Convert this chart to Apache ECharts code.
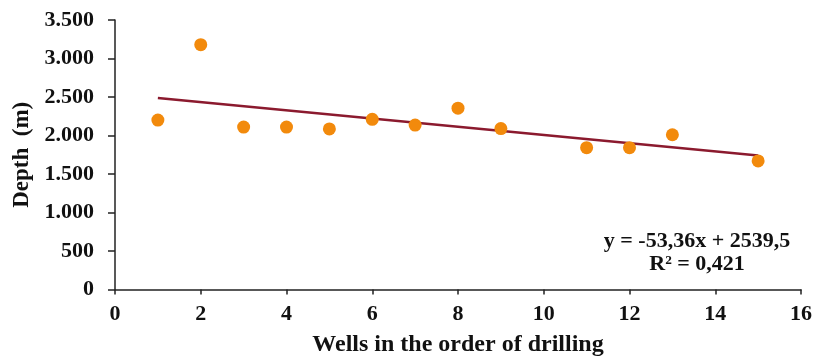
<!DOCTYPE html>
<html>
<head>
<meta charset="utf-8">
<script src="https://cdn.jsdelivr.net/npm/echarts@6/dist/echarts.min.js"></script>
<style>html,body{margin:0;padding:0;background:#fff}#c{width:817px;height:356px}</style>
</head>
<body>
<div id="c"></div>
<script>
var wells = [1, 2, 3, 4, 5, 6, 7, 8, 9, 11, 12, 13, 15];
var depths = [2200, 3180, 2110, 2110, 2085, 2210, 2135, 2355, 2090, 1842, 1842, 2010, 1670];
var slope = -53.36;
var intercept = 2539.5;
var trendX = [1, 15];
var eqText = 'y = -53,36x + 2539,5';
var r2Text = 'R² = 0,421';
var xTitle = 'Wells in the order of drilling';
var yTitle = 'Depth  (m)';

var font = '"Liberation Serif", "Times New Roman", serif';
function fmt(v){ return String(v).replace(/\B(?=(\d{3})+(?!\d))/g, '.'); }

var chart = echarts.init(document.getElementById('c'), null, {renderer:'canvas'});
chart.setOption({
  animation: false,
  backgroundColor: '#fff',
  grid: {left: 115, right: 16, top: 20, bottom: 66.5, containLabel: false, outerBoundsMode: 'none'},
  title: [
    {text: eqText, left: 692, top: 225, textAlign: 'center',
     textStyle: {fontFamily: font, fontWeight: 'bold', fontSize: 22, color: '#111'}},
    {text: r2Text, left: 692, top: 248, textAlign: 'center',
     textStyle: {fontFamily: font, fontWeight: 'bold', fontSize: 22, color: '#111'}}
  ],
  xAxis: {
    type: 'value', min: 0, max: 16, interval: 2,
    name: xTitle, nameLocation: 'middle', nameGap: 43,
    nameTextStyle: {fontFamily: font, fontWeight: 'bold', fontSize: 24, color: '#111'},
    axisLine: {onZero: false, lineStyle: {color: '#222', width: 1.5}},
    axisTick: {show: true, length: 5, lineStyle: {color: '#222', width: 1.5}},
    axisLabel: {fontFamily: font, fontWeight: 'bold', fontSize: 22, color: '#111', margin: 14},
    splitLine: {show: false}
  },
  yAxis: {
    type: 'value', min: 0, max: 3500, interval: 500,
    name: yTitle, nameLocation: 'middle', nameGap: 76, nameRotate: 90,
    nameTextStyle: {fontFamily: font, fontWeight: 'bold', fontSize: 23, color: '#111'},
    axisLine: {show: true, lineStyle: {color: '#222', width: 1.5}},
    axisTick: {show: true, length: 7, lineStyle: {color: '#222', width: 1.5}},
    axisLabel: {fontFamily: font, fontWeight: 'bold', fontSize: 22, color: '#111', margin: 21,
      formatter: fmt},
    splitLine: {show: false}
  },
  series: [
    {
      type: 'line',
      data: trendX.map(function(x){ return [x, intercept + slope * x]; }),
      symbol: 'none',
      lineStyle: {color: '#8B1A2E', width: 2.5},
      z: 2
    },
    {
      type: 'scatter',
      data: wells.map(function(w, i){ return [w, depths[i]]; }),
      symbolSize: 13,
      itemStyle: {color: '#F28A0C', opacity: 1},
      z: 3
    }
  ]
});
</script>
</body>
</html>
